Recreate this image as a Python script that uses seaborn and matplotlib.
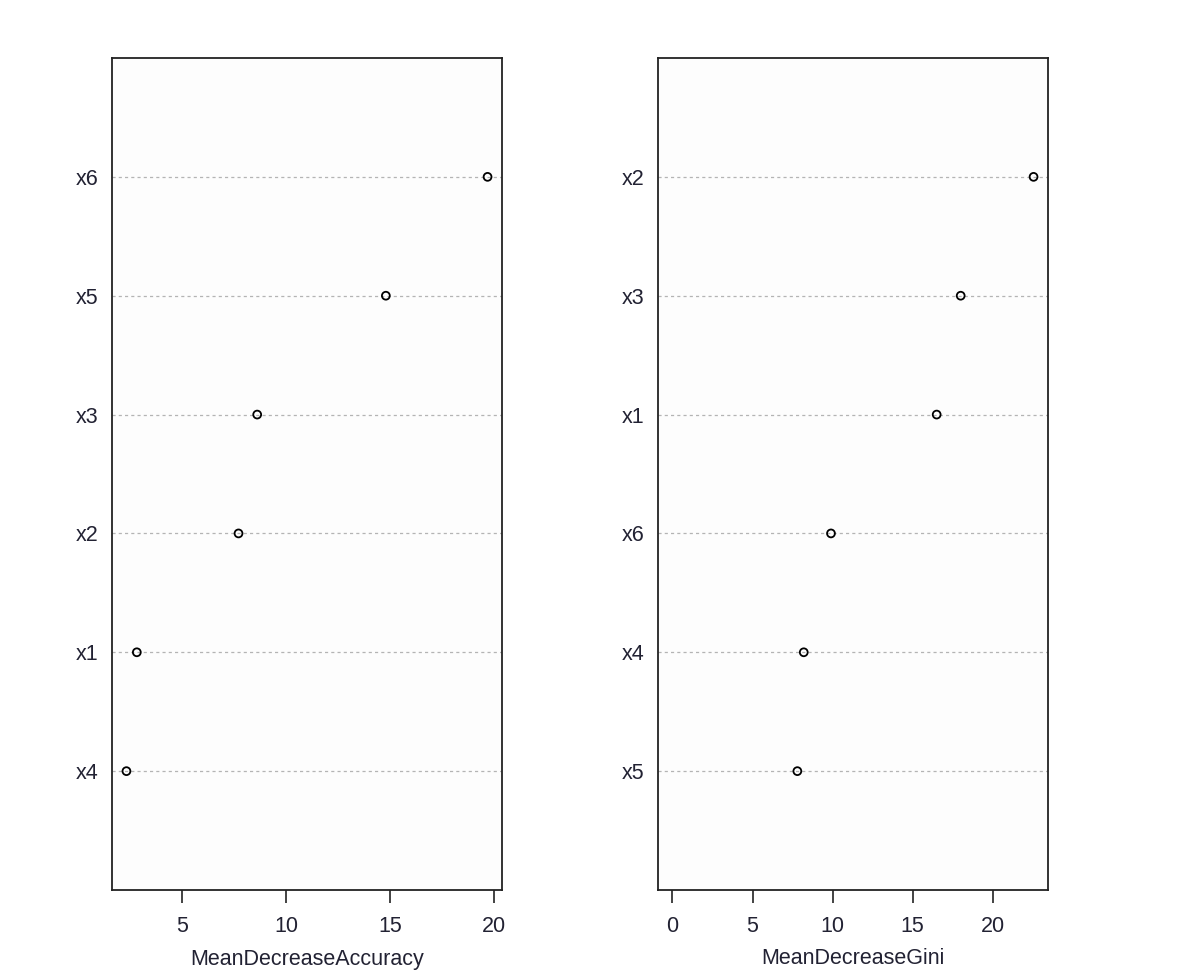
#%% Importance plot (randomForest style dotcharts)

import numpy as np
import pandas as pd
import matplotlib
matplotlib.use('Agg')
import matplotlib.pyplot as plt
import seaborn as sns

#%% Data (sorted as in the chart, bottom to top)

vars_acc = ['x4', 'x1', 'x2', 'x3', 'x5', 'x6']
acc_values = [2.3, 2.8, 7.7, 8.6, 14.8, 19.7]

vars_gini = ['x5', 'x4', 'x6', 'x1', 'x3', 'x2']
gini_values = [7.8, 8.2, 9.9, 16.5, 18.0, 22.55]

#%% Style

sns.set_theme(style='white')
plt.rcParams['font.family'] = ['Liberation Sans', 'DejaVu Sans']

fig = plt.figure(figsize=(11.81, 9.76), dpi=100, facecolor='white')

W, H = 1181, 976
ax1 = fig.add_axes([112 / W, (H - 890) / H, 390 / W, 832 / H])
ax2 = fig.add_axes([658 / W, (H - 890) / H, 390 / W, 832 / H])

FS = 15.5


def dotchart(ax, labels, values, xlabel, xmin, ticks):
    df = pd.DataFrame({'var': labels, 'value': values})
    df['pos'] = np.arange(1, len(df) + 1)
    n = len(df)
    for p in df['pos']:
        ax.axhline(p, color='#b4b4b4', linestyle=(0, (2.5, 2.5)), linewidth=0.9, zorder=1)
    sns.scatterplot(data=df, x='value', y='pos', ax=ax, marker='o', s=32,
                    facecolor='none', edgecolor='black', linewidth=1.3, zorder=3)
    lo = xmin if xmin is not None else df['value'].min()
    hi = df['value'].max()
    pad = 0.04 * (hi - lo)
    ax.set_xlim(lo - pad, hi + pad)
    ax.set_ylim(0, n + 1)
    ax.set_xticks(ticks)
    ax.set_xticklabels([str(t) for t in ticks])
    ax.set_yticks(df['pos'])
    ax.set_yticklabels(df['var'])
    ax.tick_params(axis='x', direction='out', length=9, width=1.2, color='#222222',
                   labelsize=FS, pad=10, bottom=True, labelcolor='#222233')
    ax.tick_params(axis='y', length=0, labelsize=FS, pad=10, labelcolor='#222233')
    ax.set_xlabel(xlabel, fontsize=FS, labelpad=8, color='#222233')
    ax.set_ylabel('')
    for s in ax.spines.values():
        s.set_color('#222222')
        s.set_linewidth(1.3)
    ax.set_facecolor('#fdfdfd')


dotchart(ax1, vars_acc, acc_values, 'MeanDecreaseAccuracy', None, [5, 10, 15, 20])
dotchart(ax2, vars_gini, gini_values, 'MeanDecreaseGini', 0, [0, 5, 10, 15, 20])

plt.savefig('out.png', dpi=100, facecolor='white')
